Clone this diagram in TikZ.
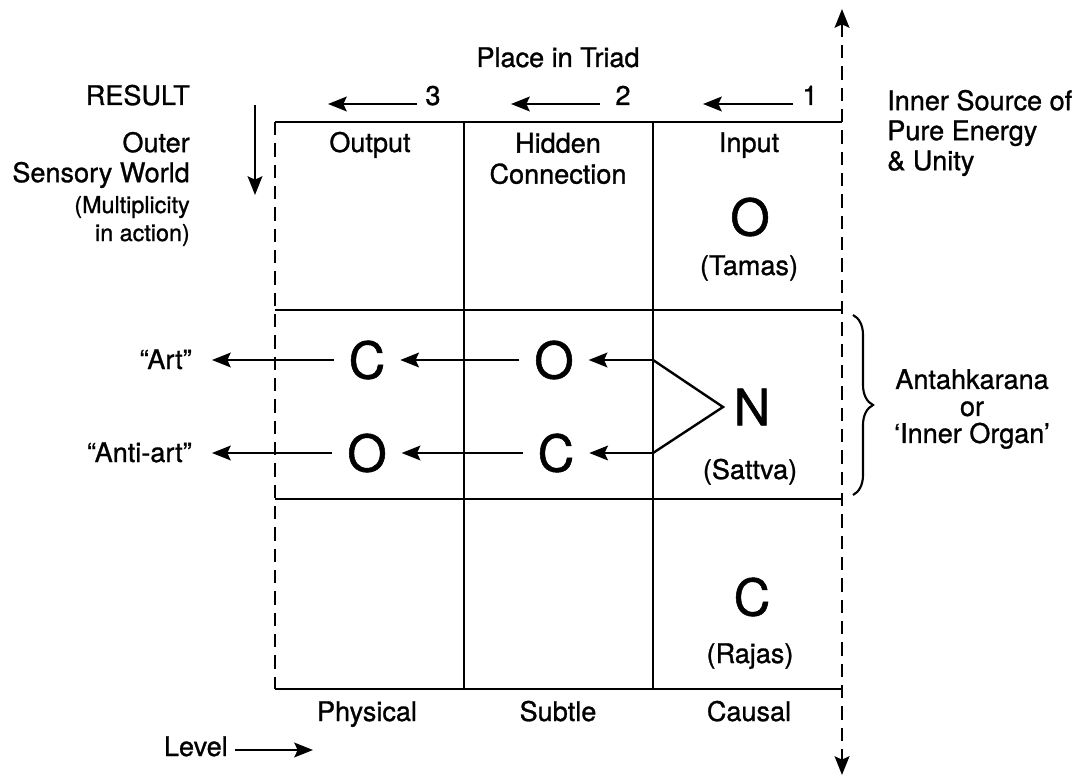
\documentclass[tikz,border=0pt]{standalone}
\usepackage{fontspec}
\setmainfont{TeX Gyre Heros}[FakeBold=1]
\usetikzlibrary{arrows.meta,decorations.pathreplacing}
\begin{document}
\begin{tikzpicture}[x=0.75pt,y=-0.75pt,
  grid/.style={line width=2pt},
  dashline/.style={line width=2pt, dash pattern=on 10pt off 6pt},
  arr/.style={line width=1.9pt,-{Stealth[length=14pt,width=11pt,inset=2.5pt]}},
  txt/.style={font=\fontsize{20.3}{22.5}\selectfont, inner sep=0pt},
  small/.style={font=\fontsize{17.5}{21}\selectfont, inner sep=0pt},
  big/.style={font=\fontsize{38}{40}\selectfont, inner xsep=11pt, inner ysep=0pt},
]
\useasboundingbox (0,0) rectangle (1080,780);

% grid
\draw[grid] (275,122) -- (842,122);
\draw[grid] (275,310) -- (842,310);
\draw[grid] (275,499) -- (842,499);
\draw[grid] (275,689) -- (842,689);
\draw[grid] (464,122) -- (464,689);
\draw[grid] (653,122) -- (653,689);
\draw[dashline] (275,122) -- (275,689);
\coordinate (axt) at (842,9);
\coordinate (axb) at (842,775);
\draw[dashline,{Stealth[length=14pt,width=11pt,inset=2.5pt]}-{Stealth[length=14pt,width=11pt,inset=2.5pt]}] (axt) -- (axb);

% top
\node[txt,anchor=base] (triad) at (558,67) {Place in Triad};
\node[txt,anchor=base] (n3) at (433,105) {3};
\node[txt,anchor=base] (n2) at (623,105) {2};
\node[txt,anchor=base] (n1) at (810,105) {1};
\coordinate (s3) at (417,104); \coordinate (e3) at (328,104);
\coordinate (s2) at (600,104); \coordinate (e2) at (511,104);
\coordinate (s1) at (793,104); \coordinate (e1) at (703,104);
\draw[arr] (s3) -- (e3);
\draw[arr] (s2) -- (e2);
\draw[arr] (s1) -- (e1);

% left labels
\node[txt,anchor=base east] (result) at (190,105) {RESULT};
\coordinate (rs) at (255,105); \coordinate (re) at (255,195);
\draw[arr] (rs) -- (re);
\node[txt,anchor=east,align=right] (outer) at (190,160) {Outer\\Sensory World};
\node[small,anchor=east,align=right] (mult) at (190,221) {(Multiplicity\\in action)};

% right labels
\node[txt,anchor=west,align=left] (source) at (887,133) {Inner Source of\\Pure Energy\\\& Unity};

% column heads
\node[txt,anchor=base] (output) at (370,152) {Output};
\node[txt,align=center,font=\fontsize{20.3}{23.25}\selectfont] (hidden) at (558,158.5) {Hidden\\Connection};
\node[txt,anchor=base] (input) at (749,152) {Input};

% top row
\node[big] (Ot) at (750,217) {O};
\node[txt,anchor=base] (tamas) at (749,275) {(Tamas)};

% middle row
\node[big] (Cl) at (367,360) {C};
\node[big] (Ol) at (367,453) {O};
\node[big] (Om) at (554,360) {O};
\node[big] (Cm) at (556,453) {C};
\node[big,inner xsep=0pt] (N) at (752,407) {N};
\node[txt,anchor=base] (sattva) at (750,479) {(Sattva)};
\node[txt,anchor=base east] (art) at (192,369) {“Art”};
\node[txt,anchor=base east] (antiart) at (192,462) {“Anti-art”};

\coordinate (v1) at (653,360);
\coordinate (v2) at (653,453);
\coordinate (nv) at (723,407);
\draw[grid,line width=1.8pt,line join=miter] (v1) -- (nv) -- (v2);
\draw[arr] (v1) -- (Om);
\draw[arr] (v2) -- (Cm);
\draw[arr] (Om) -- (Cl);
\draw[arr] (Cm) -- (Ol);
\draw[arr,shorten >=15pt] (Cl.west) -- (Cl.west -| art.east);
\draw[arr,shorten >=15pt] (Ol.west) -- (Ol.west -| antiart.east);

% brace
\coordinate (bt) at (853,315);
\coordinate (bb) at (853,495);
\draw[line width=1.6pt,decorate,decoration={brace,amplitude=15pt}] (bt) -- (bb);
\node[txt,align=center,font=\fontsize{20.3}{20.25}\selectfont] (antah) at (972,409) {Antahkarana\\or\\‘Inner Organ’};

% bottom row
\node[big] (Cb) at (752,597) {C};
\node[txt,anchor=base] (rajas) at (750,663) {(Rajas)};

% bottom labels
\node[txt,anchor=base] (phys) at (367,721) {Physical};
\node[txt,anchor=base] (subtle) at (558,721) {Subtle};
\node[txt,anchor=base] (causal) at (749,721) {Causal};
\node[txt,anchor=base east] (level) at (228,756) {Level};
\coordinate (ls) at (235,750); \coordinate (le) at (313,750);
\draw[arr] (ls) -- (le);
\end{tikzpicture}
\end{document}
